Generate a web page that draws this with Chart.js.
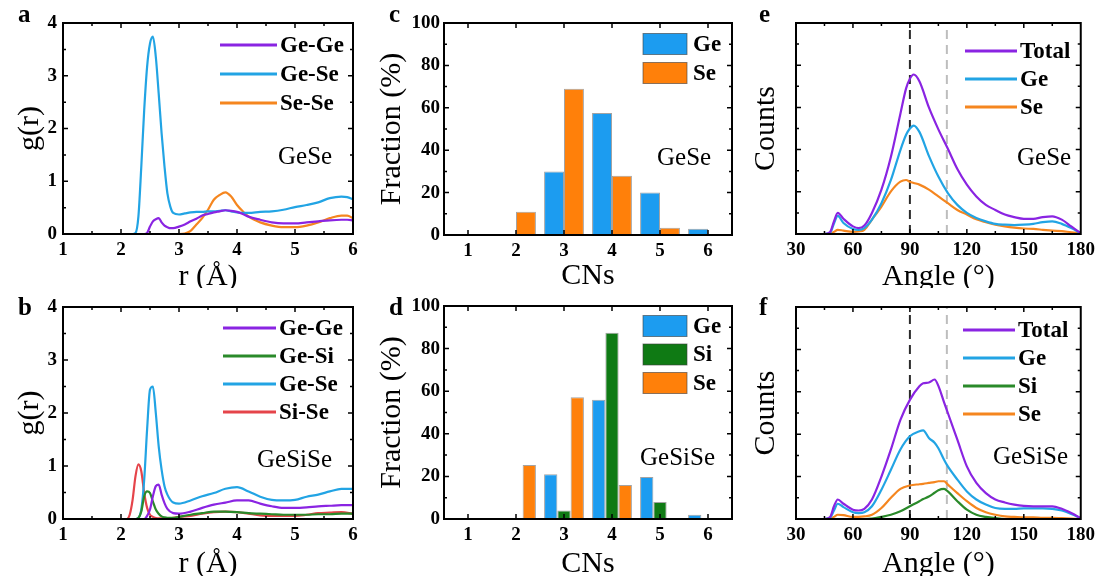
<!DOCTYPE html>
<html>
<head>
<meta charset="utf-8">
<title>GeSe / GeSiSe structure</title>
<script src="https://cdn.jsdelivr.net/npm/chart.js@4.4.0/dist/chart.umd.min.js"></script>
<style>
  body { margin: 0; background: #fff; }
  #wrap { position: relative; width: 1100px; height: 576px; overflow: hidden; background: #fff; }
  #wrap canvas { position: absolute; }
</style>
</head>
<body>
<div id="wrap">
  <canvas id="panelA" width="365" height="288" style="left:0px;top:0px"></canvas>
  <canvas id="panelB" width="365" height="288" style="left:0px;top:288px"></canvas>
  <canvas id="panelC" width="370" height="288" style="left:370px;top:0px"></canvas>
  <canvas id="panelD" width="370" height="288" style="left:370px;top:288px"></canvas>
  <canvas id="panelE" width="360" height="288" style="left:740px;top:0px"></canvas>
  <canvas id="panelF" width="360" height="288" style="left:740px;top:288px"></canvas>
</div>
<script>
// ---------- data ----------

// (a) g(r) GeSe
const rA = [1.0, 2.0, 2.2, 2.25, 2.3, 2.35, 2.4, 2.45, 2.5, 2.55, 2.6, 2.65, 2.7, 2.75, 2.8, 2.85, 2.9, 3.0, 3.1, 3.2,
            3.3, 3.4, 3.5, 3.6, 3.7, 3.8, 3.9, 4.0, 4.1, 4.2, 4.4, 4.6, 4.8, 5.0, 5.2, 5.4, 5.6, 5.8, 5.9, 6.0];
const gGeGeA = [0, 0, 0, 0, 0, 0, 0, 0.02, 0.14, 0.24, 0.28, 0.30, 0.22, 0.16, 0.13, 0.11, 0.11, 0.14, 0.18, 0.24,
                0.29, 0.35, 0.38, 0.41, 0.43, 0.45, 0.44, 0.42, 0.38, 0.33, 0.27, 0.22, 0.20, 0.20, 0.22, 0.24, 0.26, 0.27, 0.27, 0.26];
const gGeSeA = [0, 0, 0, 0.02, 0.33, 1.28, 2.35, 3.17, 3.61, 3.74, 3.36, 2.66, 1.91, 1.28, 0.77, 0.52, 0.40, 0.37, 0.39, 0.41,
                0.42, 0.42, 0.43, 0.43, 0.44, 0.45, 0.43, 0.41, 0.40, 0.40, 0.42, 0.43, 0.46, 0.51, 0.55, 0.60, 0.68, 0.71, 0.70, 0.66];
const gSeSeA = [0, 0, 0, 0, 0, 0, 0, 0, 0, 0, 0, 0, 0, 0, 0, 0, 0, 0, 0.01, 0.06,
                0.18, 0.30, 0.46, 0.65, 0.74, 0.79, 0.71, 0.55, 0.43, 0.33, 0.22, 0.16, 0.13, 0.13, 0.16, 0.22, 0.30, 0.35, 0.35, 0.30];

// (b) g(r) GeSiSe
const rB = [1.0, 2.0, 2.1, 2.15, 2.2, 2.25, 2.3, 2.35, 2.4, 2.45, 2.5, 2.55, 2.6, 2.65, 2.7, 2.75, 2.8, 2.9, 3.0, 3.2,
            3.4, 3.6, 3.8, 4.0, 4.2, 4.4, 4.6, 4.8, 5.0, 5.2, 5.4, 5.6, 5.8, 6.0];
const gGeGeB = [0, 0, 0, 0, 0, 0, 0, 0, 0, 0.06, 0.18, 0.43, 0.62, 0.65, 0.46, 0.30, 0.19, 0.11, 0.10, 0.14,
                0.21, 0.27, 0.31, 0.35, 0.35, 0.29, 0.24, 0.21, 0.21, 0.22, 0.24, 0.25, 0.26, 0.26];
const gGeSiB = [0, 0, 0, 0, 0, 0, 0.02, 0.14, 0.43, 0.52, 0.49, 0.33, 0.18, 0.10, 0.05, 0.03, 0.02, 0.02, 0.04, 0.08,
                0.11, 0.14, 0.14, 0.13, 0.11, 0.10, 0.09, 0.08, 0.08, 0.08, 0.09, 0.09, 0.10, 0.10];
const gGeSeB = [0, 0, 0, 0, 0, 0, 0.02, 0.18, 0.74, 1.69, 2.44, 2.50, 2.00, 1.37, 0.93, 0.62, 0.46, 0.31, 0.29, 0.35,
                0.43, 0.49, 0.57, 0.60, 0.52, 0.42, 0.36, 0.35, 0.36, 0.42, 0.46, 0.52, 0.57, 0.57];
const gSiSeB = [0, 0, 0, 0.08, 0.36, 0.81, 1.03, 0.90, 0.49, 0.21, 0.08, 0.04, 0.02, 0.01, 0.01, 0.01, 0.01, 0.02, 0.04, 0.06,
                0.10, 0.13, 0.14, 0.13, 0.10, 0.07, 0.06, 0.06, 0.06, 0.08, 0.11, 0.12, 0.13, 0.10];

// (c), (d) coordination numbers
const cnLabels = ['1', '2', '3', '4', '5', '6'];
const cnGeC = [0, 0, 30, 57.5, 20, 3];
const cnSeC = [0, 11, 69, 28, 3.4, 0];
const cnGeD = [0, 0, 21, 56, 19.7, 2];
const cnSiD = [0, 0, 4, 87.5, 8, 0];
const cnSeD = [0, 25.3, 57.2, 16, 0.5, 0];

// (e) bond angle distribution GeSe
const angE = [30, 45, 48, 50, 52, 55, 60, 63, 66, 70, 75, 80, 85, 88, 90, 92, 95, 100, 105, 110,
              115, 120, 125, 130, 135, 140, 145, 150, 155, 160, 165, 170, 175, 180];
const totalE = [0, 0, 0.05, 0.30, 0.50, 0.36, 0.18, 0.14, 0.20, 0.50, 1.05, 1.83, 2.85, 3.45, 3.68, 3.78, 3.62, 3.00, 2.48, 2.02,
                1.54, 1.17, 0.89, 0.69, 0.57, 0.46, 0.40, 0.36, 0.36, 0.40, 0.42, 0.34, 0.18, 0.02];
const geE = [0, 0, 0.03, 0.25, 0.43, 0.26, 0.12, 0.10, 0.14, 0.34, 0.73, 1.28, 1.99, 2.35, 2.50, 2.57, 2.42, 1.85, 1.36, 0.97,
             0.69, 0.50, 0.38, 0.30, 0.24, 0.22, 0.21, 0.22, 0.24, 0.28, 0.30, 0.24, 0.14, 0.02];
const seE = [0, 0, 0, 0.05, 0.10, 0.08, 0.05, 0.06, 0.10, 0.34, 0.65, 1.01, 1.24, 1.28, 1.24, 1.21, 1.17, 1.05, 0.89, 0.73,
             0.57, 0.46, 0.35, 0.28, 0.22, 0.18, 0.15, 0.13, 0.12, 0.10, 0.08, 0.07, 0.04, 0.02];

// (f) bond angle distribution GeSiSe
const angF = [30, 45, 48, 50, 52, 55, 60, 63, 66, 70, 75, 80, 85, 90, 95, 97, 100, 103, 105, 108,
              110, 115, 120, 125, 130, 135, 140, 145, 150, 155, 160, 165, 170, 175, 180];
const totalF = [0, 0, 0.05, 0.30, 0.46, 0.36, 0.22, 0.20, 0.24, 0.46, 1.00, 1.64, 2.34, 2.81, 3.13, 3.20, 3.22, 3.29, 3.14, 2.75,
                2.50, 1.87, 1.24, 0.85, 0.61, 0.46, 0.39, 0.34, 0.31, 0.30, 0.30, 0.30, 0.24, 0.14, 0.02];
const geF = [0, 0, 0.03, 0.20, 0.36, 0.28, 0.16, 0.14, 0.16, 0.30, 0.69, 1.16, 1.64, 1.95, 2.07, 2.09, 1.91, 1.80, 1.67, 1.40,
             1.24, 0.93, 0.65, 0.46, 0.34, 0.26, 0.24, 0.24, 0.25, 0.25, 0.25, 0.24, 0.20, 0.12, 0.02];
const siF = [0, 0, 0, 0, 0, 0, 0, 0, 0, 0.01, 0.05, 0.10, 0.18, 0.30, 0.42, 0.47, 0.53, 0.62, 0.68, 0.71,
             0.65, 0.42, 0.22, 0.10, 0.05, 0.02, 0, 0, 0, 0, 0, 0, 0, 0, 0];
const seF = [0, 0, 0, 0.05, 0.10, 0.09, 0.05, 0.05, 0.06, 0.10, 0.26, 0.50, 0.71, 0.79, 0.82, 0.83, 0.85, 0.87, 0.89, 0.89,
             0.81, 0.61, 0.42, 0.26, 0.16, 0.10, 0.06, 0.05, 0.04, 0.04, 0.03, 0.03, 0.02, 0.01, 0];

// reference angles (dashed lines): 90 deg and tetrahedral
const refAngles = [90, 109.47];

// ---------- styles ----------
const serif = "'Liberation Serif', 'Times New Roman', serif";
const PURPLE = '#8a24e2', BLUE = '#22a4e4', ORANGE = '#f5861f', GREEN = '#2a8a2a', RED = '#e5444a';
const BAR_BLUE = '#1c9cf0', BAR_GREEN = '#0f7a14', BAR_ORANGE = '#ff800a';

Chart.defaults.font.family = serif;
Chart.defaults.font.weight = 'bold';
Chart.defaults.color = '#000';

function pts(xs, ys) {
  return xs.map((x, i) => ({ x: x, y: ys[i] }));
}

// frame with inward ticks, legend inside the plot, label and panel letter
const panelDeco = {
  id: 'panelDeco',
  afterDraw(chart, args, o) {
    const ctx = chart.ctx, a = chart.chartArea;
    const ox = chart.canvas.offsetLeft, oy = chart.canvas.offsetTop;
    ctx.save();
    ctx.strokeStyle = '#000';
    ctx.lineWidth = 1.5;

    // x ticks (bottom and top)
    const xs = chart.scales.x;
    let xp = xs.ticks.map((t, i) => xs.getPixelForTick(i));
    let xm = [];
    if (o.minor) for (let i = 0; i < xp.length - 1; i++) xm.push((xp[i] + xp[i + 1]) / 2);
    ctx.beginPath();
    xp.forEach(p => {
      if (p < a.left + 2 || p > a.right - 2) return;
      ctx.moveTo(p, a.bottom); ctx.lineTo(p, a.bottom - 5);
      ctx.moveTo(p, a.top); ctx.lineTo(p, a.top + 5);
    });
    xm.forEach(p => {
      ctx.moveTo(p, a.bottom); ctx.lineTo(p, a.bottom - 3);
      ctx.moveTo(p, a.top); ctx.lineTo(p, a.top + 3);
    });
    // y ticks (left and right)
    const ys = chart.scales.y;
    let yp = ys.ticks.map((t, i) => ys.getPixelForTick(i));
    yp.forEach(p => {
      if (p < a.top + 2 || p > a.bottom - 2) return;
      ctx.moveTo(a.left, p); ctx.lineTo(a.left + 5, p);
      ctx.moveTo(a.right, p); ctx.lineTo(a.right - 5, p);
    });
    for (let i = 0; i < yp.length - 1; i++) {
      let p = (yp[i] + yp[i + 1]) / 2;
      ctx.moveTo(a.left, p); ctx.lineTo(a.left + 3, p);
      ctx.moveTo(a.right, p); ctx.lineTo(a.right - 3, p);
    }
    ctx.stroke();

    ctx.lineWidth = 2;
    ctx.strokeRect(a.left, a.top, a.right - a.left, a.bottom - a.top);

    // legend
    const lg = o.legend;
    const items = chart.data.datasets.filter(d => d.label);
    ctx.textBaseline = 'middle';
    ctx.textAlign = 'left';
    ctx.font = 'bold 23px ' + serif;
    items.forEach((d, i) => {
      const y = lg.y - oy + i * lg.dy;
      const x = lg.x - ox;
      if (lg.kind === 'box') {
        ctx.fillStyle = d.backgroundColor;
        ctx.fillRect(x, y - lg.h / 2, lg.w, lg.h);
        ctx.lineWidth = 1;
        ctx.strokeStyle = 'rgba(60,60,60,0.6)';
        ctx.strokeRect(x, y - lg.h / 2, lg.w, lg.h);
        ctx.fillStyle = '#000';
        ctx.fillText(d.label, x + lg.w + 6, y + 1);
      } else {
        ctx.strokeStyle = d.borderColor;
        ctx.lineWidth = 3;
        ctx.beginPath();
        ctx.moveTo(x, y); ctx.lineTo(x + lg.len, y);
        ctx.stroke();
        ctx.fillStyle = '#000';
        ctx.fillText(d.label, x + lg.len + 3, y + 1);
      }
    });

    // sample name
    ctx.fillStyle = '#000';
    ctx.font = '25px ' + serif;
    ctx.fillText(o.note, o.noteX - ox, o.noteY - oy);

    // panel letter
    ctx.textBaseline = 'alphabetic';
    ctx.font = 'bold 25px ' + serif;
    ctx.fillText(o.letter, o.letterX - ox, o.letterY - oy);
    ctx.restore();
  }
};

function tickFont() {
  return { family: serif, size: 19, weight: 'bold' };
}

function axisTitle(text, pad) {
  return { display: true, text: text, color: '#000', font: { family: serif, size: 30, weight: 'normal', lineHeight: 1 }, padding: pad };
}

function baseOptions(area, deco) {
  return {
    responsive: false,
    animation: false,
    layout: { padding: { top: area.top, right: area.right, left: 0, bottom: 0 } },
    plugins: { legend: { display: false }, tooltip: { enabled: false }, panelDeco: deco }
  };
}

function lineSet(label, xs, ys, color) {
  return {
    label: label, data: pts(xs, ys), borderColor: color, backgroundColor: color,
    borderWidth: 2.2, pointRadius: 0, fill: false, cubicInterpolationMode: 'monotone', order: 1
  };
}

function refSets() {
  const cols = ['#2b2b2b', '#bdbdbd'];
  return refAngles.map((ang, i) => ({
    data: [{ x: ang, y: 0 }, { x: ang, y: 5 }],
    borderColor: cols[i], borderWidth: 2, borderDash: [9, 6], pointRadius: 0, order: 5
  }));
}

function barSet(label, vals, color) {
  return {
    label: label, data: vals, backgroundColor: color,
    borderColor: 'rgba(50,50,50,0.45)', borderWidth: c => (c.raw > 0 ? 1 : 0),
    categoryPercentage: 0.83, barPercentage: 1
  };
}

// g(r) panels
function grChart(id, datasets, area, deco) {
  const opts = baseOptions(area, deco);
  opts.scales = {
    x: {
      type: 'linear', min: 1, max: 6,
      ticks: { stepSize: 1, padding: 5, color: '#000', font: tickFont() },
      grid: { display: false, drawTicks: false }, border: { display: false },
      title: axisTitle('r (Å)', { top: 0, bottom: area.xT }),
      afterFit: s => { s.height = area.xH; }
    },
    y: {
      min: 0, max: 4,
      ticks: { stepSize: 1, padding: 6, color: '#000', font: tickFont() },
      grid: { display: false, drawTicks: false }, border: { display: false },
      title: axisTitle('g(r)', { top: area.yT, bottom: 0 }),
      afterFit: s => { s.width = area.yW; }
    }
  };
  return new Chart(document.getElementById(id), { type: 'line', data: { datasets: datasets }, options: opts, plugins: [panelDeco] });
}

// coordination number panels
function cnChart(id, datasets, area, deco) {
  const opts = baseOptions(area, deco);
  opts.scales = {
    x: {
      ticks: { padding: 5, color: '#000', font: tickFont() },
      grid: { display: false, drawTicks: false }, border: { display: false },
      title: axisTitle('CNs', { top: 0, bottom: area.xT }),
      afterFit: s => { s.height = area.xH; }
    },
    y: {
      min: 0, max: 100,
      ticks: { stepSize: 20, padding: 4, color: '#000', font: tickFont() },
      grid: { display: false, drawTicks: false }, border: { display: false },
      title: axisTitle('Fraction (%)', { top: area.yT, bottom: 0 }),
      afterFit: s => { s.width = area.yW; }
    }
  };
  return new Chart(document.getElementById(id), {
    type: 'bar', data: { labels: cnLabels, datasets: datasets }, options: opts, plugins: [panelDeco]
  });
}

// bond angle panels
function angleChart(id, datasets, area, deco) {
  const opts = baseOptions(area, deco);
  opts.scales = {
    x: {
      type: 'linear', min: 30, max: 180,
      ticks: { stepSize: 30, padding: 5, color: '#000', font: tickFont() },
      grid: { display: false, drawTicks: false }, border: { display: false },
      title: axisTitle('Angle (°)', { top: 0, bottom: area.xT }),
      afterFit: s => { s.height = area.xH; }
    },
    y: {
      min: 0, max: 5,
      ticks: { stepSize: 1, display: false },
      grid: { display: false, drawTicks: false }, border: { display: false },
      title: axisTitle('Counts', { top: area.yT, bottom: 0 }),
      afterFit: s => { s.width = area.yW; }
    }
  };
  return new Chart(document.getElementById(id), { type: 'line', data: { datasets: datasets }, options: opts, plugins: [panelDeco] });
}

grChart('panelA', [
  lineSet('Ge-Ge', rA, gGeGeA, PURPLE),
  lineSet('Ge-Se', rA, gGeSeA, BLUE),
  lineSet('Se-Se', rA, gSeSeA, ORANGE)
], { top: 23, right: 12, yW: 63, xH: 54, yT: 15, xT: -4 },
{ minor: true, letter: 'a', letterX: 18, letterY: 22, note: 'GeSe', noteX: 278, noteY: 157,
  legend: { kind: 'line', x: 220, y: 45, dy: 29, len: 57 } });

grChart('panelB', [
  lineSet('Ge-Ge', rB, gGeGeB, PURPLE),
  lineSet('Ge-Si', rB, gGeSiB, GREEN),
  lineSet('Ge-Se', rB, gGeSeB, BLUE),
  lineSet('Si-Se', rB, gSiSeB, RED)
], { top: 19, right: 12, yW: 63, xH: 57, yT: 15, xT: -3 },
{ minor: true, letter: 'b', letterX: 18, letterY: 315, note: 'GeSiSe', noteX: 257, noteY: 460,
  legend: { kind: 'line', x: 223, y: 328, dy: 28, len: 53 } });

cnChart('panelC', [
  barSet('Ge', cnGeC, BAR_BLUE),
  barSet('Se', cnSeC, BAR_ORANGE)
], { top: 23, right: 8, yW: 74, xH: 53, yT: 7, xT: -3 },
{ minor: false, letter: 'c', letterX: 389, letterY: 22, note: 'GeSe', noteX: 657, noteY: 158,
  legend: { kind: 'box', x: 643, y: 44, dy: 29, w: 44, h: 21 } });

cnChart('panelD', [
  barSet('Ge', cnGeD, BAR_BLUE),
  barSet('Si', cnSiD, BAR_GREEN),
  barSet('Se', cnSeD, BAR_ORANGE)
], { top: 18, right: 8, yW: 74, xH: 57, yT: 7, xT: -3 },
{ minor: false, letter: 'd', letterX: 389, letterY: 315, note: 'GeSiSe', noteX: 640, noteY: 458,
  legend: { kind: 'box', x: 643, y: 326, dy: 28.5, w: 44, h: 21 } });

angleChart('panelE', refSets().concat([
  lineSet('Total', angE, totalE, PURPLE),
  lineSet('Ge', angE, geE, BLUE),
  lineSet('Se', angE, seE, ORANGE)
]), { top: 23, right: 15, yW: 56, xH: 54, yT: 11, xT: -4 },
{ minor: true, letter: 'e', letterX: 759, letterY: 22, note: 'GeSe', noteX: 1017, noteY: 158,
  legend: { kind: 'line', x: 965, y: 51, dy: 28, len: 52 } });

angleChart('panelF', refSets().concat([
  lineSet('Total', angF, totalF, PURPLE),
  lineSet('Ge', angF, geF, BLUE),
  lineSet('Si', angF, siF, GREEN),
  lineSet('Se', angF, seF, ORANGE)
]), { top: 19, right: 15, yW: 56, xH: 57, yT: 11, xT: -3 },
{ minor: true, letter: 'f', letterX: 759, letterY: 315, note: 'GeSiSe', noteX: 993, noteY: 457,
  legend: { kind: 'line', x: 963, y: 330, dy: 28, len: 52 } });
</script>
</body>
</html>
